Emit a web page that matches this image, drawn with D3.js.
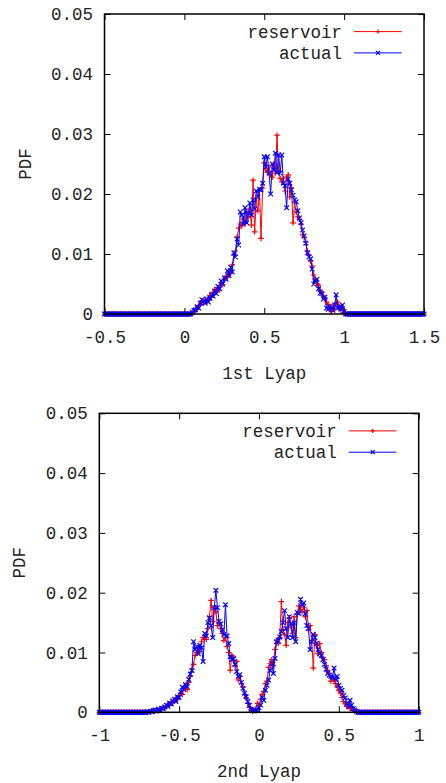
<!DOCTYPE html>
<html>
<head>
<meta charset="utf-8">
<script src="https://cdn.jsdelivr.net/npm/d3@7/dist/d3.min.js"></script>
<style>
	html, body { margin: 0; padding: 0; background: #fff; }
	svg { display: block; }
	.lbl { font-family: "Liberation Mono", "DejaVu Sans Mono", monospace; font-size: 17.5px; fill: #222; }
</style>
</head>
<body>
<svg id="chart" width="446" height="783"></svg>
<script>
'use strict';

// ---- data: PDF histograms, 0.01 wide bins ----
// panel 1: 1st Lyapunov exponent, bins from -0.50 to 1.50
var lyap1Start = -0.5;
var lyap1Reservoir = [
	0,0,0,0,0,0,0,0,0,0, 0,0,0,0,0,0,0,0,0,0, 0,0,0,0,0,0,0,0,0,0,
	0,0,0,0,0,0,0,0,0,0, 0,0,0,0,0,0,0,0,0,0, 0,0,0,0,0,
	.0002,.0004,.0009,.0008,.0014,.0016,.0022,.0019,.0024,.0021,
	.0026,.0031,.0028,.0036,.0041,.0037,.0044,.0040,.0052,.0049,
	.0058,.0063,.0061,.0072,.0068,.0082,.0098,.0105,.0128,.0143,
	.0150,.0147,.0158,.0152,.0170,.0162,.0175,.0148,.0223,.0137,
	.0190,.0172,.0205,.0126,.0210,.0252,.0240,.0236,.0245,.0232,
	.0228,.0250,.0235,.0298,.0238,.0226,.0220,.0225,.0205,.0228,
	.0232,.0195,.0210,.0152,.0185,.0170,.0162,.0158,.0150,.0132,
	.0128,.0120,.0105,.0098,.0088,.0080,.0065,.0058,.0050,.0048,
	.0040,.0036,.0030,.0027,.0020,.0016,.0010,.0004,.0012,.0008,
	.0018,.0020,.0012,.0006,.0010,.0002,
	0,0,0,0,0,0,0,0,0,0, 0,0,0,0,0,0,0,0,0,0, 0,0,0,0,0,0,0,0,0,0,
	0,0,0,0,0,0,0,0,0,0, 0,0,0,0,0,0,0,0,0,0
];
var lyap1Actual = [
	0,0,0,0,0,0,0,0,0,0, 0,0,0,0,0,0,0,0,0,0, 0,0,0,0,0,0,0,0,0,0,
	0,0,0,0,0,0,0,0,0,0, 0,0,0,0,0,0,0,0,0,0, 0,0,0,0,0,
	.0003,.0006,.0007,.0012,.0010,.0018,.0024,.0021,.0018,.0025,
	.0020,.0026,.0032,.0030,.0038,.0034,.0046,.0042,.0055,.0050,
	.0060,.0058,.0072,.0064,.0078,.0070,.0102,.0095,.0125,.0115,
	.0170,.0165,.0150,.0177,.0152,.0168,.0185,.0165,.0190,.0175,
	.0205,.0195,.0208,.0207,.0218,.0262,.0245,.0262,.0235,.0200,
	.0250,.0240,.0268,.0236,.0265,.0235,.0265,.0218,.0214,.0177,
	.0225,.0218,.0207,.0198,.0190,.0187,.0172,.0160,.0152,.0140,
	.0130,.0118,.0102,.0095,.0092,.0075,.0050,.0055,.0058,.0042,
	.0035,.0034,.0025,.0028,.0010,.0008,.0012,.0010,.0006,.0015,
	.0032,.0010,.0012,.0008,.0015,.0004,
	0,0,0,0,0,0,0,0,0,0, 0,0,0,0,0,0,0,0,0,0, 0,0,0,0,0,0,0,0,0,0,
	0,0,0,0,0,0,0,0,0,0, 0,0,0,0,0,0,0,0,0,0
];

// panel 2: 2nd Lyapunov exponent, bins from -1.00 to 1.00
var lyap2Start = -1.0;
var lyap2Reservoir = [
	0,0,0,0,0,0,0,0,0,0, 0,0,0,0,0,0,0,0,0,0, 0,0,0,0,0,0,0,0,0,0,
	.0000,.0001,.0001,.0002,.0002,.0003,.0004,.0003,.0005,.0006,
	.0008,.0007,.0010,.0014,.0012,.0018,.0016,.0020,.0024,.0021,
	.0028,.0032,.0030,.0040,.0045,.0038,.0050,.0060,.0072,.0080,
	.0095,.0100,.0108,.0102,.0118,.0125,.0128,.0122,.0140,.0160,
	.0187,.0152,.0175,.0168,.0145,.0150,.0140,.0132,.0120,.0125,
	.0110,.0100,.0070,.0095,.0092,.0078,.0085,.0054,.0060,.0048,
	.0042,.0030,.0024,.0015,.0008,.0004,.0002,.0003,.0006,.0015,
	.0012,.0022,.0030,.0035,.0048,.0052,.0075,.0082,.0088,.0078,
	.0105,.0120,.0115,.0125,.0185,.0138,.0130,.0112,.0150,.0158,
	.0142,.0132,.0160,.0125,.0165,.0178,.0172,.0168,.0176,.0160,
	.0170,.0138,.0145,.0120,.0074,.0130,.0112,.0098,.0115,.0100,
	.0092,.0088,.0078,.0070,.0065,.0052,.0058,.0054,.0048,.0042,
	.0036,.0032,.0025,.0018,.0014,.0010,.0012,.0006,.0008,.0004,
	.0002,.0001,.0000,
	0,0,0,0,0,0,0,0,0,0, 0,0,0,0,0,0,0,0,0,0, 0,0,0,0,0,0,0,0,0,0,
	0,0,0,0,0,0,0,0
];
var lyap2Actual = [
	0,0,0,0,0,0,0,0,0,0, 0,0,0,0,0,0,0,0,0,0, 0,0,0,0,0,0,0,0,0,0,
	.0001,.0000,.0002,.0001,.0003,.0004,.0002,.0005,.0004,.0007,
	.0006,.0009,.0012,.0010,.0015,.0014,.0019,.0022,.0018,.0026,
	.0025,.0034,.0042,.0038,.0046,.0043,.0055,.0064,.0070,.0118,
	.0105,.0110,.0098,.0112,.0108,.0085,.0132,.0128,.0150,.0158,
	.0145,.0125,.0175,.0204,.0175,.0152,.0148,.0138,.0130,.0180,
	.0128,.0115,.0093,.0088,.0090,.0080,.0068,.0060,.0063,.0050,
	.0040,.0032,.0026,.0018,.0012,.0005,.0003,.0002,.0004,.0003,
	.0008,.0012,.0025,.0020,.0037,.0045,.0054,.0070,.0082,.0065,
	.0090,.0118,.0120,.0126,.0135,.0150,.0170,.0140,.0125,.0160,
	.0148,.0125,.0150,.0118,.0167,.0165,.0189,.0180,.0183,.0165,
	.0145,.0140,.0105,.0118,.0130,.0125,.0115,.0105,.0098,.0095,
	.0088,.0080,.0072,.0065,.0062,.0060,.0058,.0074,.0055,.0060,
	.0045,.0040,.0037,.0028,.0024,.0015,.0010,.0020,.0012,.0006,
	.0004,.0002,.0000,
	0,0,0,0,0,0,0,0,0,0, 0,0,0,0,0,0,0,0,0,0, 0,0,0,0,0,0,0,0,0,0,
	0,0,0,0,0,0,0,0
];
var binWidth = 0.01;

// ---- tick labels ----
var yTicks = [0, 0.01, 0.02, 0.03, 0.04, 0.05];
var yTickLabels = ["0", "0.01", "0.02", "0.03", "0.04", "0.05"];
var x1Ticks = [-0.5, 0, 0.5, 1, 1.5];
var x1TickLabels = ["-0.5", "0", "0.5", "1", "1.5"];
var x2Ticks = [-1, -0.5, 0, 0.5, 1];
var x2TickLabels = ["-1", "-0.5", "0", "0.5", "1"];
var seriesNames = ["reservoir", "actual"];

console.log("[chart] bins: %d %d %d %d", lyap1Reservoir.length, lyap1Actual.length,
	lyap2Reservoir.length, lyap2Actual.length);

var svg = d3.select("#chart");

// gnuplot-ish point markers
var plusPath = function(x, y, s){
	return "M" + (x - s) + "," + y + "h" + (2 * s) + "M" + x + "," + (y - s) + "v" + (2 * s);
};
var crossPath = function(x, y, s){
	return "M" + (x - s) + "," + (y - s) + "l" + (2 * s) + "," + (2 * s) +
		"M" + (x - s) + "," + (y + s) + "l" + (2 * s) + "," + (-2 * s);
};

var drawPanel = function(cfg){
	var g = svg.append("g");
	var x = d3.scaleLinear().domain(cfg.xDomain).range([cfg.left, cfg.right]);
	var y = d3.scaleLinear().domain([0, 0.05]).range([cfg.bottom, cfg.top]);

	var fmt = function(ticks, labels){
		return function(d){ return labels[ticks.indexOf(d)]; };
	};

	// axes with inward ticks on all four sides
	var xb = g.append("g").attr("transform", "translate(0," + cfg.bottom + ")")
		.call(d3.axisBottom(x).tickValues(cfg.xTicks).tickFormat(fmt(cfg.xTicks, cfg.xTickLabels))
			.tickSizeInner(-6).tickSizeOuter(0).tickPadding(16.5));
	var yl = g.append("g").attr("transform", "translate(" + cfg.left + ",0)")
		.call(d3.axisLeft(y).tickValues(yTicks).tickFormat(fmt(yTicks, yTickLabels))
			.tickSizeInner(-6).tickSizeOuter(0).tickPadding(11.5));
	var xt = g.append("g").attr("transform", "translate(0," + cfg.top + ")")
		.call(d3.axisTop(x).tickValues(cfg.xTicks).tickFormat("").tickSizeInner(-6).tickSizeOuter(0));
	var yr = g.append("g").attr("transform", "translate(" + cfg.right + ",0)")
		.call(d3.axisRight(y).tickValues(yTicks).tickFormat("").tickSizeInner(-6).tickSizeOuter(0));

	[xb, yl, xt, yr].forEach(function(a){
		a.select(".domain").remove();
		a.selectAll(".tick line").attr("stroke", "#000").attr("stroke-width", 1);
		a.selectAll(".tick text").attr("class", "lbl").attr("font-family", null).attr("font-size", null);
	});

	// series
	var series = [
		{ values: cfg.reservoir, color: "#ff0000", marker: plusPath, size: 2.8 },
		{ values: cfg.actual, color: "#0000ff", marker: crossPath, size: 2.3 }
	];
	var line = d3.line()
		.x(function(d, i){ return x(cfg.xStart + i * binWidth); })
		.y(function(d){ return y(d); });

	series.forEach(function(s){
		g.append("path")
			.attr("d", line(s.values))
			.attr("fill", "none")
			.attr("stroke", s.color)
			.attr("stroke-width", 1);
		var pts = s.values.map(function(v, i){
			return s.marker(x(cfg.xStart + i * binWidth), y(v), s.size);
		}).join("");
		g.append("path")
			.attr("d", pts)
			.attr("fill", "none")
			.attr("stroke", s.color)
			.attr("stroke-width", 1.2);
	});

	// frame
	g.append("rect")
		.attr("x", cfg.left).attr("y", cfg.top)
		.attr("width", cfg.right - cfg.left).attr("height", cfg.bottom - cfg.top)
		.attr("fill", "none").attr("stroke", "#000").attr("stroke-width", 1.5);

	// legend
	series.forEach(function(s, i){
		var ly = cfg.top + 17.6 + i * 21.3;
		g.append("text").attr("class", "lbl")
			.attr("x", cfg.right - 82).attr("y", ly).attr("dy", "0.35em")
			.attr("text-anchor", "end").text(seriesNames[i]);
		g.append("line")
			.attr("x1", cfg.right - 70).attr("x2", cfg.right - 22.3)
			.attr("y1", ly).attr("y2", ly)
			.attr("stroke", s.color).attr("stroke-width", 1);
		g.append("path")
			.attr("d", s.marker(cfg.right - 46, ly, 2))
			.attr("fill", "none").attr("stroke", s.color).attr("stroke-width", 1.2);
	});

	// axis titles
	g.append("text").attr("class", "lbl")
		.attr("x", (cfg.left + cfg.right) / 2).attr("y", cfg.bottom + 59).attr("dy", "0.35em")
		.attr("text-anchor", "middle").text(cfg.xTitle);
	g.append("text").attr("class", "lbl")
		.attr("transform", "translate(" + (cfg.left - 80) + "," + ((cfg.top + cfg.bottom) / 2) + ") rotate(-90)")
		.attr("dy", "0.35em").attr("text-anchor", "middle").text("PDF");
};

drawPanel({
	left: 104.5, right: 424, top: 14, bottom: 314,
	xDomain: [-0.5, 1.5], xTicks: x1Ticks, xTickLabels: x1TickLabels,
	xStart: lyap1Start, reservoir: lyap1Reservoir, actual: lyap1Actual,
	xTitle: "1st Lyap"
});
drawPanel({
	left: 99.3, right: 418.7, top: 413.3, bottom: 712.3,
	xDomain: [-1, 1], xTicks: x2Ticks, xTickLabels: x2TickLabels,
	xStart: lyap2Start, reservoir: lyap2Reservoir, actual: lyap2Actual,
	xTitle: "2nd Lyap"
});
</script>
</body>
</html>
